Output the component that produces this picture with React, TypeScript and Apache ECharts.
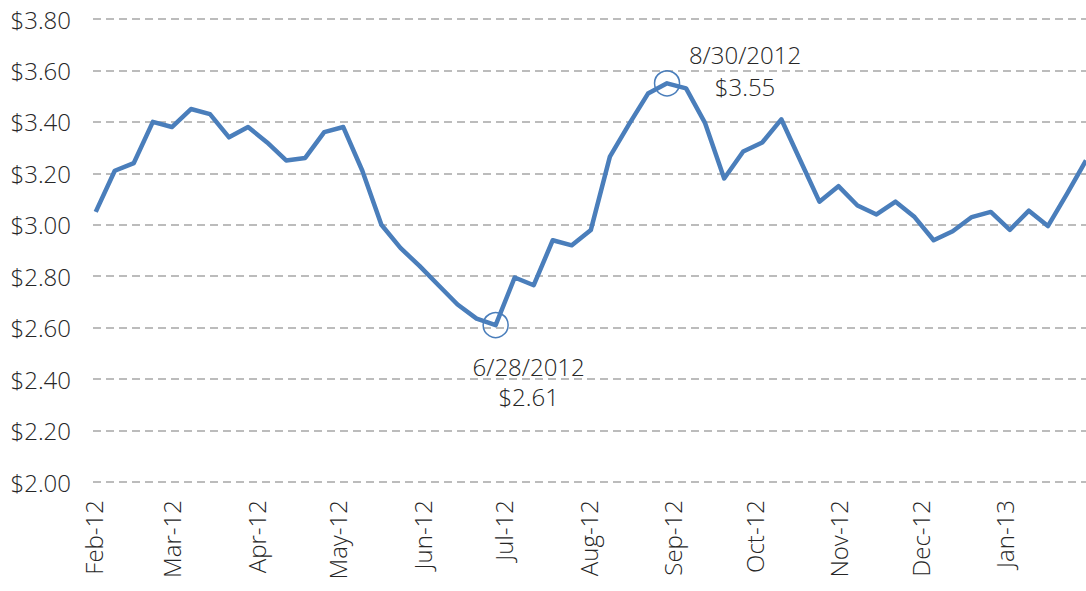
import React, { useEffect, useRef } from "react";
import * as echarts from "echarts";

const dates: string[] = [
  "2012-02-02", "2012-02-09", "2012-02-16", "2012-02-23",
  "2012-03-01", "2012-03-08", "2012-03-15", "2012-03-22", "2012-03-29",
  "2012-04-05", "2012-04-12", "2012-04-19", "2012-04-26",
  "2012-05-03", "2012-05-10", "2012-05-17", "2012-05-24", "2012-05-31",
  "2012-06-07", "2012-06-14", "2012-06-21", "2012-06-28",
  "2012-07-05", "2012-07-12", "2012-07-19", "2012-07-26",
  "2012-08-02", "2012-08-09", "2012-08-16", "2012-08-23", "2012-08-30",
  "2012-09-06", "2012-09-13", "2012-09-20", "2012-09-27",
  "2012-10-04", "2012-10-11", "2012-10-18", "2012-10-25",
  "2012-11-01", "2012-11-08", "2012-11-15", "2012-11-22", "2012-11-29",
  "2012-12-06", "2012-12-13", "2012-12-20", "2012-12-27",
  "2013-01-03", "2013-01-10", "2013-01-17", "2013-01-24", "2013-01-31",
];

const prices: number[] = [
  3.05, 3.21, 3.24, 3.40,
  3.38, 3.45, 3.43, 3.34, 3.38,
  3.32, 3.25, 3.26, 3.36,
  3.38, 3.21, 3.00, 2.91, 2.84,
  2.765, 2.69, 2.635, 2.61,
  2.795, 2.765, 2.94, 2.92,
  2.98, 3.265, 3.39, 3.51, 3.55,
  3.53, 3.395, 3.18, 3.285,
  3.32, 3.41, 3.25, 3.09,
  3.15, 3.075, 3.04, 3.09, 3.03,
  2.94, 2.975, 3.03, 3.05,
  2.98, 3.055, 2.995, 3.12, 3.25,
];

const lowDate = "2012-06-28";
const lowPrice = 2.61;
const highDate = "2012-08-30";
const highPrice = 3.55;

const monthNames = ["Jan", "Feb", "Mar", "Apr", "May", "Jun", "Jul", "Aug", "Sep", "Oct", "Nov", "Dec"];

const FONT = "'Open Sans', sans-serif";
const TEXT_COLOR = "#262626";
const LINE_COLOR = "#4a7ebb";

export default function App() {
  const ref = useRef<HTMLDivElement>(null);

  useEffect(() => {
    if (!ref.current) return;
    const chart = echarts.init(ref.current, null, { renderer: "svg" });
    const data = dates.map((d, i) => [d, prices[i]]);
    const annot = (coord: [string, number], text: string, offset: number[], lh: number) => ({
      coord,
      symbol: "circle",
      symbolSize: 25,
      itemStyle: { color: "rgba(0,0,0,0)", borderColor: LINE_COLOR, borderWidth: 1.5 },
      label: {
        show: true,
        position: "inside",
        offset,
        formatter: text,
        fontFamily: FONT,
        fontWeight: 300,
        fontSize: 24,
        lineHeight: lh,
        color: TEXT_COLOR,
        align: "center",
      },
    });
    chart.setOption({
      animation: false,
      backgroundColor: "#ffffff",
      grid: { left: 93, right: 0, top: 19, bottom: 109, containLabel: false },
      xAxis: {
        type: "time",
        min: "2012-02-01",
        max: "2013-01-31",
        minInterval: 28 * 24 * 3600 * 1000,
        maxInterval: 31 * 24 * 3600 * 1000,
        axisLine: { show: false },
        axisTick: { show: false },
        splitLine: { show: false },
        axisLabel: {
          rotate: 90,
          margin: 18,
          hideOverlap: false,
          showMinLabel: true,
          fontFamily: FONT,
          fontWeight: 300,
          fontSize: 24,
          color: TEXT_COLOR,
          formatter: (v: number) => {
            const d = new Date(v);
            return monthNames[d.getMonth()] + "-" + String(d.getFullYear()).slice(2);
          },
        },
      },
      yAxis: {
        type: "value",
        min: 2,
        max: 3.8,
        interval: 0.2,
        axisLine: { show: false },
        axisTick: { show: false },
        axisLabel: {
          margin: 22,
          fontFamily: FONT,
          fontWeight: 300,
          fontSize: 24,
          color: TEXT_COLOR,
          formatter: (v: number) => "$" + v.toFixed(2),
        },
        splitLine: {
          show: true,
          lineStyle: { color: "#a6a6a6", width: 1.5, type: [8, 5] },
        },
      },
      series: [
        {
          type: "line",
          data,
          symbol: "none",
          lineStyle: { color: LINE_COLOR, width: 4.5, join: "round" },
          markPoint: {
            silent: true,
            data: [
              annot([lowDate, lowPrice], "6/28/2012\n$2.61", [33, 56], 30),
              annot([highDate, highPrice], "8/30/2012\n$3.55", [78, -13], 32),
            ],
          },
        },
      ],
    });
    return () => chart.dispose();
  }, []);

  return (
    <div
      ref={ref}
      style={{ position: "fixed", left: 0, top: 0, width: 1086, height: 591 }}
    />
  );
}
